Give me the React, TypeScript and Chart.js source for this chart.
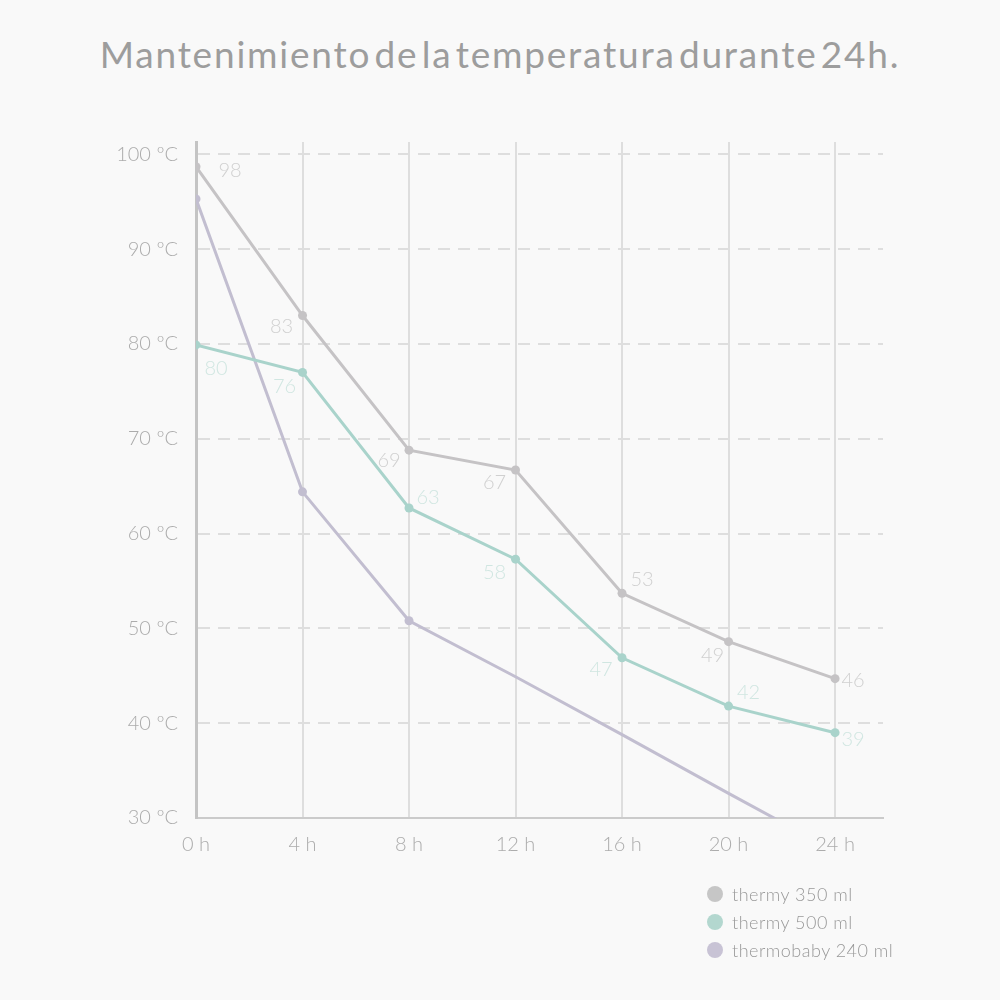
import React, { useRef, useEffect } from 'react';
import { Chart, registerables } from 'chart.js';

Chart.register(...registerables);

// data
const hours = [0, 4, 8, 12, 16, 20, 24];
const thermy350 = [98.7, 83.0, 68.8, 66.7, 53.7, 48.6, 44.7];
const thermy350Labels = ['98', '83', '69', '67', '53', '49', '46'];
const thermy500 = [79.9, 77.0, 62.7, 57.3, 46.9, 41.8, 39.0];
const thermy500Labels = ['80', '76', '63', '58', '47', '42', '39'];
const thermobaby = [95.3, 64.4, 50.8, 44.9, 38.8, 32.6, 26.5];
const yTicks = [30, 40, 50, 60, 70, 80, 90, 100];

const seriesNames = ['thermy 350 ml', 'thermy 500 ml', 'thermobaby 240 ml'];
const lineColors = ['#c5c3c5', '#a9d3cb', '#c2bed0'];
const dotColors = ['#c6c6c6', '#b3d7cf', '#c8c3d5'];
const labelColors = ['#d0d0d0', '#d0e6e1'];

// label offsets (px) from each point, per series
const offs350 = [[34, 4], [-21, 11], [-20, 10], [-21, 13], [20, -14], [-16, 14], [18, 2]];
const offs500 = [[20, 24], [-18, 14], [19, -10], [-21, 13], [-21, 12], [20, -14], [18, 7]];

const FONT = 'Lato, "Noto Sans", sans-serif';

export default function App() {
  const ref = useRef<HTMLCanvasElement>(null);
  const chartRef = useRef<Chart | null>(null);

  useEffect(() => {
    const canvas = ref.current;
    if (!canvas) return;
    chartRef.current?.destroy();

    const pts = (ys: number[]) => hours.map((h, i) => ({ x: h, y: ys[i] }));

    chartRef.current = new Chart(canvas, {
      type: 'line',
      data: {
        datasets: [
          {
            label: seriesNames[0],
            data: pts(thermy350),
            borderColor: lineColors[0],
            backgroundColor: lineColors[0],
            borderWidth: 3,
            pointRadius: 4.5,
            pointBorderWidth: 0,
            // @ts-expect-error custom prop
            __labels: thermy350Labels, __offs: offs350, __lc: labelColors[0],
          },
          {
            label: seriesNames[1],
            data: pts(thermy500),
            borderColor: lineColors[1],
            backgroundColor: lineColors[1],
            borderWidth: 3,
            pointRadius: 4.5,
            pointBorderWidth: 0,
            // @ts-expect-error custom prop
            __labels: thermy500Labels, __offs: offs500, __lc: labelColors[1],
          },
          {
            label: seriesNames[2],
            data: pts(thermobaby),
            borderColor: lineColors[2],
            backgroundColor: lineColors[2],
            borderWidth: 3,
            pointRadius: [4.5, 4.5, 4.5, 0, 0, 0, 0],
            pointBorderWidth: 0,
          },
        ],
      },
      options: {
        responsive: false,
        animation: false,
        layout: { padding: { left: 0, top: 142, right: 117, bottom: 0 } },
        scales: {
          x: {
            type: 'linear',
            min: 0,
            max: 25.8,
            afterBuildTicks: (s: any) => { s.ticks = hours.map(v => ({ value: v })); },
            afterFit: (s: any) => { s.height = 182; },
            grid: { color: '#dedede', lineWidth: 2, drawTicks: false },
            border: { display: true, color: '#cbcbcb', width: 2 },
            ticks: {
              padding: 15,
              color: '#acacac',
              font: { family: FONT, size: 20, weight: 300 },
              callback: (v: any) => `${v} h`,
            },
          },
          y: {
            min: 30,
            max: 101.3,
            afterBuildTicks: (s: any) => { s.ticks = yTicks.map(v => ({ value: v })); },
            afterFit: (s: any) => { s.width = 196; },
            grid: { color: '#dedede', lineWidth: 2, drawTicks: false },
            border: { display: true, color: '#c4c4c4', width: 3, dash: [12, 8] },
            ticks: {
              padding: 18,
              color: '#acacac',
              font: { family: FONT, size: 20, weight: 300 },
              callback: (v: any) => `${v} ºC`,
            },
          },
        },
        plugins: {
          legend: { display: false },
          tooltip: { enabled: false },
        },
      },
      plugins: [{
        id: 'pointLabels',
        afterDatasetsDraw(chart) {
          const { ctx } = chart;
          ctx.save();
          ctx.textAlign = 'center';
          ctx.textBaseline = 'middle';
          ctx.font = `300 20px ${FONT}`;
          chart.data.datasets.forEach((ds: any, di) => {
            if (!ds.__labels) return;
            const meta = chart.getDatasetMeta(di);
            ctx.fillStyle = ds.__lc;
            meta.data.forEach((el: any, i) => {
              const [dx, dy] = ds.__offs[i];
              ctx.fillText(ds.__labels[i], el.x + dx, el.y + dy);
            });
          });
          ctx.restore();
        },
      }],
    });

    return () => { chartRef.current?.destroy(); };
  }, []);

  return (
    <div style={{ position: 'absolute', left: 0, top: 0, width: 1000, height: 1000, background: '#f9f9f9', overflow: 'hidden' }}>
      <div style={{
        position: 'absolute', left: 0, top: 35, width: 1000, textAlign: 'center', lineHeight: '37px',
        fontFamily: FONT, fontWeight: 400, fontSize: 37, color: '#9d9d9d', letterSpacing: 1.8, wordSpacing: -8,
      }}>
        Mantenimiento de la temperatura durante 24h.
      </div>
      <canvas ref={ref} width={1000} height={1000} style={{ position: 'absolute', left: 0, top: 0, display: 'block' }} />
      <div style={{ position: 'absolute', left: 707, top: 880, fontFamily: FONT, fontWeight: 300, fontSize: 18, letterSpacing: 0.5, color: '#999' }}>
        {seriesNames.map((n, i) => (
          <div key={n} style={{ display: 'flex', alignItems: 'center', height: 28 }}>
            <span style={{ width: 16, height: 16, borderRadius: 8, background: dotColors[i], marginRight: 9 }} />
            {n}
          </div>
        ))}
      </div>
    </div>
  );
}
